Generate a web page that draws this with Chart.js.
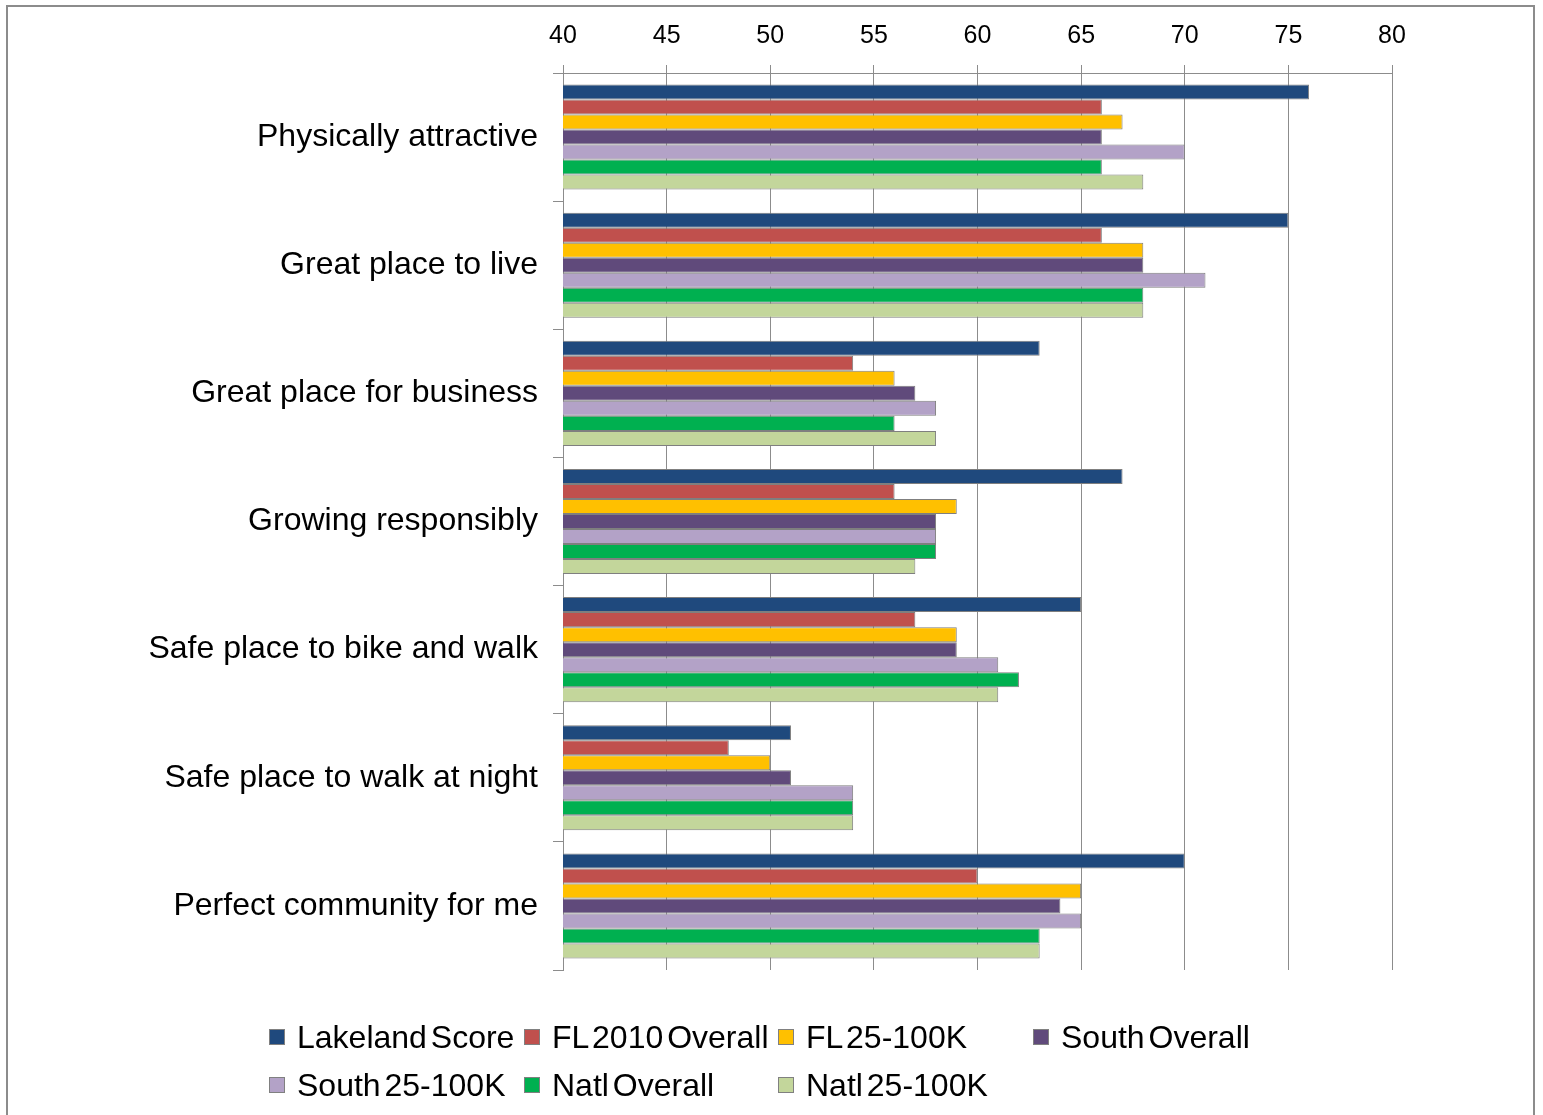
<!DOCTYPE html>
<html>
<head>
<meta charset="utf-8">
<script src="https://cdn.jsdelivr.net/npm/chart.js@4"></script>
<style>
  html, body { margin: 0; padding: 0; background: #fff; overflow: hidden; }
  #wrap { position: relative; width: 1543px; height: 1115px; }
  #frame { position: absolute; left: 6px; top: 5px; width: 1529px; height: 1120px;
           border: 2px solid #8c8c8c; box-sizing: border-box; pointer-events: none; }
  #legend { position: absolute; left: 269px; top: 1021px; display: grid;
            grid-template-columns: 255px 254px 255px 255px; row-gap: 16px;
            font-family: "Liberation Sans", Arial, sans-serif; font-size: 32px; color: #000; }
  .item { display: flex; align-items: center; height: 32px; white-space: nowrap; word-spacing: -5px; }
  .box { width: 14px; height: 14px; border: 1px solid #808080; margin-right: 12px; flex: none; }
</style>
</head>
<body>
<div id="wrap">
  <canvas id="chart" width="1543" height="1115"></canvas>
  <div id="frame"></div>
  <div id="legend"></div>
</div>
<script>
const categories = [
  "Physically attractive",
  "Great place to live",
  "Great place for business",
  "Growing responsibly",
  "Safe place to bike and walk",
  "Safe place to walk at night",
  "Perfect community for me"
];
const seriesNames = ["Lakeland Score", "FL 2010 Overall", "FL 25-100K", "South Overall",
                     "South 25-100K", "Natl Overall", "Natl 25-100K"];
const seriesColors = ["#1F497D", "#C0504D", "#FFC000", "#604A7B", "#B3A2C7", "#00B050", "#C3D69B"];

const lakelandScore = [76, 75, 63, 67, 65, 51, 70];
const fl2010Overall = [66, 66, 54, 56, 57, 48, 60];
const fl25to100k    = [67, 68, 56, 59, 59, 50, 65];
const southOverall  = [66, 68, 57, 58, 59, 51, 64];
const south25to100k = [70, 71, 58, 58, 61, 54, 65];
const natlOverall   = [66, 68, 56, 58, 62, 54, 63];
const natl25to100k  = [68, 68, 58, 57, 61, 54, 63];

const xTicks = [40, 45, 50, 55, 60, 65, 70, 75, 80];

const seriesValues = [lakelandScore, fl2010Overall, fl25to100k, southOverall,
                      south25to100k, natlOverall, natl25to100k];

const gridGray = "#8c8c8c";

const datasets = seriesNames.map((name, i) => ({
  label: name,
  data: seriesValues[i],
  backgroundColor: seriesColors[i],
  borderColor: "#7f7f7f",
  borderWidth: 1,
  borderSkipped: false,
  categoryPercentage: 0.82,
  barPercentage: 1.0
}));

new Chart(document.getElementById("chart"), {
  type: "bar",
  data: { labels: categories, datasets: datasets },
  options: {
    indexAxis: "y",
    responsive: false,
    animation: false,
    layout: { padding: { left: 0, right: 151, top: 0, bottom: 145 } },
    plugins: { legend: { display: false }, tooltip: { enabled: false } },
    scales: {
      x: {
        position: "top",
        min: xTicks[0],
        max: xTicks[xTicks.length - 1],
        afterBuildTicks: (s) => { s.ticks = xTicks.map(v => ({ value: v })); },
        afterFit: (s) => { s.height = 73; },
        grid: { color: gridGray, lineWidth: 1, tickLength: 8, drawOnChartArea: true },
        border: { display: true, color: gridGray, width: 1 },
        ticks: {
          color: "#000",
          padding: 14,
          font: { family: "'Liberation Sans', Arial, sans-serif", size: 25 }
        }
      },
      y: {
        afterFit: (s) => { s.width = 563; },
        grid: { offset: true, drawOnChartArea: false, color: gridGray, tickLength: 10 },
        border: { display: true, color: gridGray, width: 1 },
        ticks: {
          color: "#000",
          padding: 15,
          font: { family: "'Liberation Sans', Arial, sans-serif", size: 32 }
        }
      }
    }
  }
});

// legend laid out in four columns like the original
const legendEl = document.getElementById("legend");
seriesNames.forEach((name, i) => {
  const item = document.createElement("div");
  item.className = "item";
  const box = document.createElement("span");
  box.className = "box";
  box.style.background = seriesColors[i];
  item.appendChild(box);
  item.appendChild(document.createTextNode(name));
  legendEl.appendChild(item);
});
</script>
</body>
</html>
